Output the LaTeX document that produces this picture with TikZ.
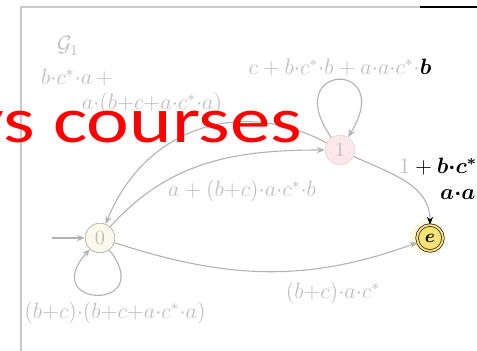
\documentclass[tikz,border=0pt]{standalone}
\usepackage{amsmath,amssymb}
\usepackage{fontspec}
\newfontfamily\wmfont{Carlito}
\usetikzlibrary{arrows.meta,positioning}
\definecolor{edgegray}{RGB}{178,178,178}
\definecolor{lblgray}{RGB}{190,190,190}
\definecolor{zerofill}{RGB}{250,250,236}
\definecolor{onefill}{RGB}{252,232,236}
\definecolor{efill}{RGB}{246,226,120}
\definecolor{wmred}{RGB}{255,0,0}
\newcommand{\dt}{{\cdot}}
\tikzset{
  st/.style={circle, draw=edgegray, minimum size=16pt, inner sep=0pt, text=lblgray, font=\fontsize{11}{13}\selectfont},
  acc/.style={circle, draw=black!85, double=efill, double distance=1pt, fill=efill, minimum size=14pt, inner sep=0pt},
  lbl/.style={text=lblgray, inner sep=1pt, font=\fontsize{11.5}{14}\selectfont},
  edg/.style={-{Stealth[length=1.5mm, width=1.2mm]}, edgegray, semithick},
  edgk/.style={-{Stealth[length=1.5mm, width=1.2mm, black]}, edgegray, semithick},
}
\begin{document}
\begin{tikzpicture}[x=0.019cm, y=-0.019cm]
  \useasboundingbox (0,0) rectangle (477,351);
  \clip (0,0) rectangle (477,351);
  % frame of the slide
  \draw[edgegray!70, line width=0.8pt] (20,7) -- (420,7);
  \draw[black, line width=0.8pt] (420,7) -- (477,7);
  \draw[edgegray!70, line width=0.8pt] (21,7) -- (21,351);
  % states
  \node[st, fill=zerofill] (q0) at (100,238) {$0$};
  \node[st, fill=onefill, draw=onefill!70!edgegray] (q1) at (340,150) {$1$};
  \fill[efill!25] (427,238) circle (9pt);
  \node[acc] (qe) at (430,238) {$\boldsymbol{e}$};
  \coordinate (start) at (52,238);
  % edges
  \draw[edg] (start) -- (q0);
  \draw[edg] (q0) to[out=-52, in=-132, distance=1.5cm] (q0);
  \draw[edg] (q1) to[out=125, in=58, distance=1.75cm] (q1);
  \draw[edg] (q1) to[out=152, in=68, looseness=1.1] (q0);
  \draw[edg] (q0) to[out=48, in=180] (q1);
  \draw[edg] (q0) to[out=-18, in=200] (qe);
  \draw[edgk] (q1) to[out=-25, in=90] (qe);
  % labels
  \node[lbl] (g1) at (68,46) {$\mathcal{G}_1$};
  \node[lbl] (l10a) at (77,78) {$b\dt c^*\dt a\,+$};
  \node[lbl] (l10b) at (152,104) {$a\dt(b{+}c{+}a\dt c^*\dt a)$};
  \node[lbl] (l11) at (340,68) {$c+b\dt c^*\dt b+a\dt a\dt c^*\dt$\textcolor{black}{$\boldsymbol{b}$}};
  \node[lbl] (l01) at (242,191) {$a+(b{+}c)\dt a\dt c^*\dt b$};
  \node[lbl] (l00) at (115,313) {$(b{+}c)\dt(b{+}c{+}a\dt c^*\dt a)$};
  \node[lbl] (l0e) at (333,293) {$(b{+}c)\dt a\dt c^*$};
  \node[lbl, anchor=west, text=black] (l1ea) at (397,167) {$\textcolor{lblgray}{1}+\boldsymbol{b\dt c^*}+$};
  \node[lbl, anchor=west, text=black] (l1eb) at (438,192) {$\boldsymbol{a\dt a\dt c^*}$};
  % watermark
  \node[anchor=base west, inner sep=0pt, text=wmred, xscale=1.25, font=\wmfont\fontsize{35}{40}\selectfont] (wm) at (-33,143) {ys courses};
\end{tikzpicture}
\end{document}
